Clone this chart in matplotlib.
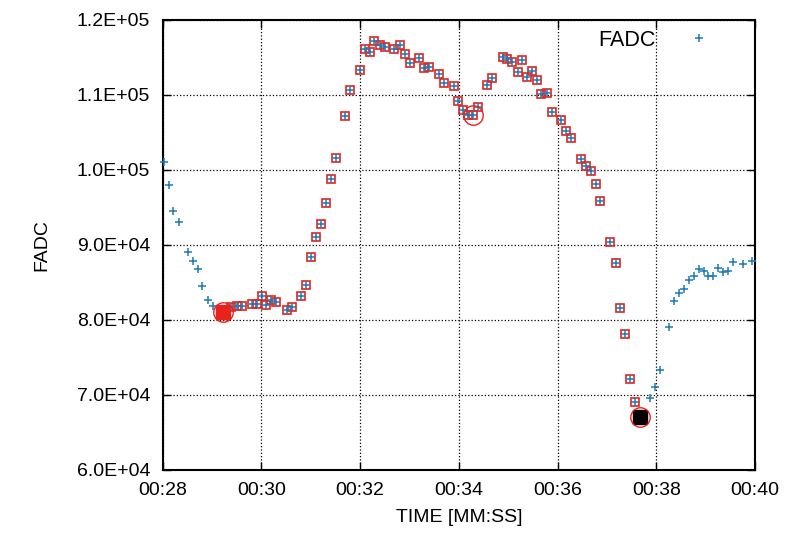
import matplotlib
matplotlib.use('Agg')
import matplotlib.pyplot as plt

plt.rcParams['font.family'] = ['Liberation Sans', 'DejaVu Sans']

# time in seconds (00:SS), FADC counts
t_before = [28.02, 28.12, 28.21, 28.32, 28.51, 28.61, 28.72, 28.80, 28.91, 29.01]
v_before = [101000, 98000, 94500, 93000, 89000, 87900, 86800, 84500, 82700, 81900]

# selected (red squared) points
t_sel = [29.21, 29.39, 29.51, 29.60, 29.80, 29.90, 30.02, 30.10, 30.20, 30.30,
         30.51, 30.61, 30.81, 30.91, 31.00, 31.11, 31.20, 31.30, 31.40, 31.51,
         31.70, 31.79, 31.99, 32.09, 32.19, 32.29, 32.40, 32.50, 32.69, 32.80,
         32.90, 33.00, 33.20, 33.29, 33.39, 33.60, 33.70, 33.90, 33.99, 34.09,
         34.19, 34.29, 34.39, 34.58, 34.68, 34.89, 34.98, 35.08, 35.19, 35.28,
         35.38, 35.48, 35.58, 35.66, 35.78, 35.88, 36.07, 36.17, 36.27, 36.47,
         36.57, 36.67, 36.77, 36.87, 37.07, 37.18, 37.27, 37.37, 37.47, 37.57,
         37.67]
v_sel = [81100, 81700, 81800, 81800, 82100, 82100, 83200, 82000, 82700, 82400,
         81300, 81700, 83200, 84600, 88400, 91000, 92800, 95600, 98800, 101600,
         107200, 110700, 113300, 116100, 115700, 117200, 116700, 116400, 116100, 116600,
         115500, 114300, 114900, 113600, 113700, 112800, 111600, 111200, 109200, 108000,
         107300, 107300, 108400, 111300, 112200, 115100, 114800, 114400, 113100, 114700,
         112400, 113200, 112000, 110100, 110300, 107700, 106700, 105200, 104200, 101400,
         100500, 99900, 98100, 95900, 90400, 87600, 81600, 78100, 72100, 69000,
         67100]

t_after = [37.87, 37.97, 38.07, 38.26, 38.37, 38.46, 38.56, 38.67, 38.76, 38.86,
           38.96, 39.05, 39.15, 39.26, 39.36, 39.45, 39.55, 39.75, 39.95]
v_after = [69600, 71100, 73300, 79100, 82500, 83600, 84100, 85300, 85900, 86800,
           86500, 85900, 85900, 86900, 86400, 86500, 87700, 87500, 87800]

# markers: start (filled red), middle dip (circle), end (black)
t_start, v_start = t_sel[0], v_sel[0]
t_mid, v_mid = 34.29, 107300
t_end, v_end = t_sel[-1], v_sel[-1]

x_ticks = [28, 30, 32, 34, 36, 38, 40]
x_labels = ['00:28', '00:30', '00:32', '00:34', '00:36', '00:38', '00:40']
y_ticks = [60000, 70000, 80000, 90000, 100000, 110000, 120000]
y_labels = ['6.0E+04', '7.0E+04', '8.0E+04', '9.0E+04', '1.0E+05', '1.1E+05', '1.2E+05']

t_all = t_before + t_sel + t_after
v_all = v_before + v_sel + v_after

fig = plt.figure(figsize=(8.1, 5.35), dpi=100)
ax = fig.add_axes([0.201, 0.1215, 0.731, 0.8415])

ax.plot(t_sel[1:-1], v_sel[1:-1], 's', mfc='none', mec='#e8231c', ms=6, mew=1.2, zorder=3)
ax.plot(t_all, v_all, '+', color='#1f7ab8', ms=6, mew=1.1, label='FADC', zorder=4, clip_on=False)

ax.plot(t_start, v_start, 's', color='#e8231c', ms=10, zorder=5)
ax.plot(t_start, v_start, 'o', mfc='none', mec='#e8231c', ms=14, mew=1, zorder=5)
ax.plot(t_mid, v_mid, 'o', mfc='none', mec='#e8231c', ms=14, mew=1, zorder=5)
ax.plot(t_end, v_end, 's', color='black', ms=10, zorder=5)
ax.plot(t_end, v_end, 'o', mfc='none', mec='#e8231c', ms=14, mew=1, zorder=5)

ax.set_xlim(28, 40)
ax.set_ylim(60000, 120000)
ax.set_xticks(x_ticks)
ax.set_xticklabels(x_labels)
ax.set_yticks(y_ticks)
ax.set_yticklabels(y_labels)
ax.tick_params(direction='in', length=6, width=1, top=True, right=True, labelsize=14, pad=9)
ax.grid(True, color='black', linestyle=':', linewidth=0.9)
for s in ax.spines.values():
    s.set_linewidth(1.5)

ax.set_xlabel('TIME [MM:SS]', fontsize=14, labelpad=7)
ax.set_ylabel('FADC', fontsize=14, labelpad=19)
ax.legend(loc='upper right', frameon=False, markerfirst=False, fontsize=15.5,
          bbox_to_anchor=(0.956, 1.021), handlelength=1, handletextpad=1.5)

fig.savefig('out.png', dpi=100)
